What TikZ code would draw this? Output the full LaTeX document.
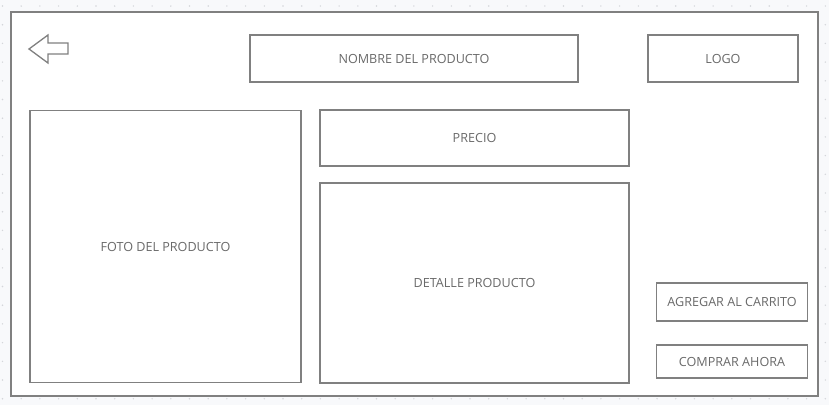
\documentclass[tikz,border=0pt]{standalone}
\usepackage{fontspec}
\setmainfont{Open Sans}
\definecolor{wireline}{HTML}{808080}
\definecolor{wiretext}{HTML}{6A6A6A}
\definecolor{canvas}{HTML}{F8F9FB}
\definecolor{griddot}{HTML}{D4D6DA}
\tikzset{
  box/.style={draw=wireline, line width=1.3pt, fill=white, rectangle, inner sep=0pt,
    text=wiretext, font=\fontsize{12.6}{14}\selectfont},
}
\begin{document}
\begin{tikzpicture}[x=1pt,y=-1pt]
            \useasboundingbox (0,0) rectangle (829,405);
            \fill[canvas] (0,0) rectangle (829,405);
            \foreach \i in {0,...,44}
              \foreach \j in {0,...,21}
                \fill[griddot] ({2.5+18.7*\i},{6+18.7*\j}) circle (0.8pt);

            \node[box, minimum width=807pt, minimum height=384pt] (pantalla) at (414.5,204) {};

            \coordinate (P1) at (29,49);
            \coordinate (P2) at (48,35);
            \coordinate (P3) at (48,43);
            \coordinate (P4) at (68,43);
            \coordinate (P5) at (68,54);
            \coordinate (P6) at (48,54);
            \coordinate (P7) at (48,63);
            \draw[wireline, line width=1.3pt, line join=miter] (P1) -- (P2) -- (P3) -- (P4) -- (P5) -- (P6) -- (P7) -- cycle;

            \node[box, minimum width=328pt, minimum height=47pt] (nombre) at (414,58.5) {NOMBRE DEL PRODUCTO};
            \node[box, minimum width=150pt, minimum height=47pt] (logo) at (723,58.5) {LOGO};

            \node[box, minimum width=271pt, minimum height=272pt] (foto) at (165.5,246.5) {FOTO DEL PRODUCTO};
            \node[box, minimum width=309pt, minimum height=56pt] (precio) at (474.5,138) {PRECIO};
            \node[box, minimum width=309pt, minimum height=200pt] (detalle) at (474.5,283) {DETALLE PRODUCTO};

            \node[box, minimum width=151pt, minimum height=38pt] (agregar) at (732,302) {AGREGAR AL CARRITO};
            \node[box, minimum width=151pt, minimum height=33pt] (comprar) at (732,361.5) {COMPRAR AHORA};
          \end{tikzpicture}
\end{document}
